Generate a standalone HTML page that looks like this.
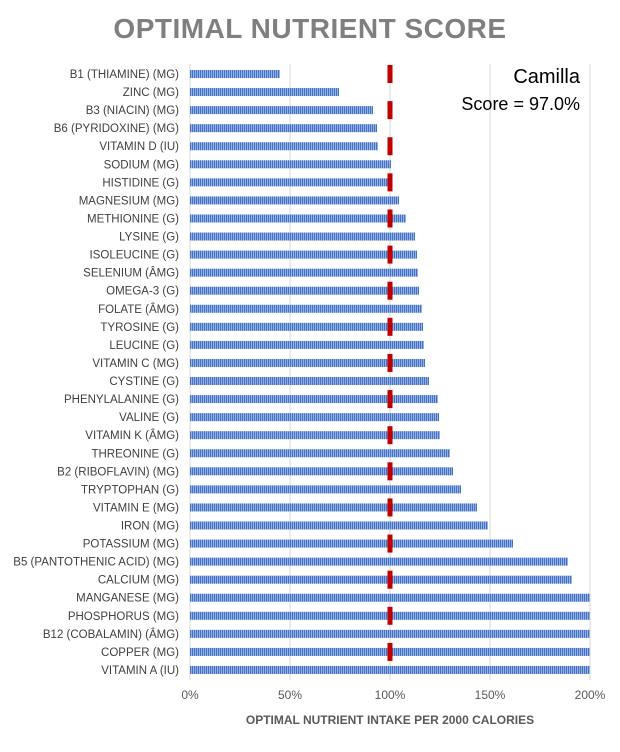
<!DOCTYPE html>
<html><head><meta charset="utf-8"><style>
body{margin:0;background:#fff;font-family:"Liberation Sans",sans-serif;}
</style></head><body>
<svg width="620" height="747">
<defs><pattern id="st" width="2" height="10" patternUnits="userSpaceOnUse"><rect width="2" height="10" fill="#a9c1ea"/><rect width="1.2" height="10" fill="#4472c4"/></pattern></defs>
<text x="310" y="38" text-anchor="middle" font-size="28" font-weight="bold" fill="#7f7f7f" letter-spacing="0.5">OPTIMAL NUTRIENT SCORE</text>
<g id="grid"></g><g id="bars"></g><g id="marks"></g><g id="labels"></g><g id="ticks"></g>
<text x="580" y="83" text-anchor="end" font-size="20" fill="#000">Camilla</text>
<text x="580" y="110" text-anchor="end" font-size="18" fill="#000">Score = 97.0%</text>
<text x="390" y="724" text-anchor="middle" font-size="12" font-weight="bold" fill="#595959">OPTIMAL NUTRIENT INTAKE PER 2000 CALORIES</text>
</svg>
<script>
const categories=["B1 (THIAMINE) (MG)","ZINC (MG)","B3 (NIACIN) (MG)","B6 (PYRIDOXINE) (MG)","VITAMIN D (IU)","SODIUM (MG)","HISTIDINE (G)","MAGNESIUM (MG)","METHIONINE (G)","LYSINE (G)","ISOLEUCINE (G)","SELENIUM (ÂMG)","OMEGA-3 (G)","FOLATE (ÂMG)","TYROSINE (G)","LEUCINE (G)","VITAMIN C (MG)","CYSTINE (G)","PHENYLALANINE (G)","VALINE (G)","VITAMIN K (ÂMG)","THREONINE (G)","B2 (RIBOFLAVIN) (MG)","TRYPTOPHAN (G)","VITAMIN E (MG)","IRON (MG)","POTASSIUM (MG)","B5 (PANTOTHENIC ACID) (MG)","CALCIUM (MG)","MANGANESE (MG)","PHOSPHORUS (MG)","B12 (COBALAMIN) (ÂMG)","COPPER (MG)","VITAMIN A (IU)"];
const values=[45,74.5,91.5,93.5,94,100.5,99,104.5,108,112.5,113.5,114,114.5,116,116.5,117,117.5,119.5,124,124.5,125,130,131.5,135.5,143.5,149,161.5,189,191,200,200,200,200,200];
const ticks=[0,50,100,150,200];
const target=100;
const NS="http://www.w3.org/2000/svg";
const x=v=>190+v*2, y=i=>74+i*18.06;
function mk(t,a,p){const e=document.createElementNS(NS,t);for(const k in a)e.setAttribute(k,a[k]);document.getElementById(p).appendChild(e);return e;}
ticks.forEach(t=>{
 const g=mk('line',{x1:x(t),x2:x(t),y1:64,y2:680,stroke:'#d9d9d9'},'grid');
 
 
 const l=mk('text',{x:x(t),y:699,'text-anchor':'middle','font-size':12,fill:'#595959'},'ticks');
 l.textContent=t+'%';
 
 
});
categories.forEach((c,i)=>{
 const b=mk('rect',{x:x(0),y:y(i)-4,width:x(Math.min(values[i],200))-x(0),height:8,fill:'url(#st)'},'bars');
 
 
 const l=mk('text',{x:179,y:y(i)+4,'text-anchor':'end','font-size':11.5,fill:'#404040'},'labels');
 l.textContent=c;
 
 
 if(i%2===0){
  const m=mk('rect',{x:x(target)-2.5,y:y(i)-9,width:5,height:18,fill:'#c00000'},'marks');
  
  
 }
});
</script>
</body></html>
